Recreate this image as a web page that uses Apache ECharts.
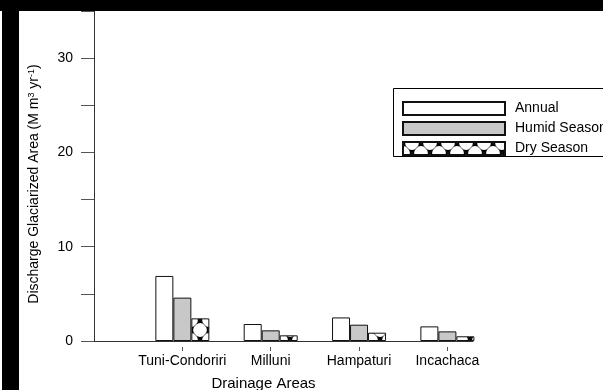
<!DOCTYPE html>
<html>
<head>
<meta charset="utf-8">
<title>Discharge by drainage area</title>
<script src="https://cdn.jsdelivr.net/npm/echarts@6/dist/echarts.min.js"></script>
<style>
  html, body { margin: 0; padding: 0; background: #fff; }
  #chart { width: 603px; height: 390px; }
</style>
</head>
<body>
<div id="chart"></div>
<script>
// Drainage areas and discharge values (M m3 / yr)
var categories = ['Tuni-Condoriri', 'Milluni', 'Hampaturi', 'Incachaca'];
var annual = [6.9, 1.8, 2.5, 1.55];
var humidSeason = [4.6, 1.13, 1.73, 1.02];
var drySeason = [2.4, 0.6, 0.88, 0.5];
var yTicks = [0, 10, 20, 30];

var FONT = '"Liberation Sans", Arial, sans-serif';

// Category positions on a numeric x axis: 1..n
var positions = categories.map(function (c, i) { return i + 1; });
function pairs(values) {
  return values.map(function (v, i) { return [positions[i], v]; });
}

// Cross-hatched fill: white discs between dark diagonal lines that meet in
// small black knots. dx/dy shift the lattice inside the tile.
function makeHatch(dx, dy) {
  var w = 18, h = 20;
  var c = document.createElement('canvas');
  c.width = w; c.height = h;
  var ctx = c.getContext('2d');
  ctx.fillStyle = '#000';
  ctx.fillRect(0, 0, w, h);
  function eachCopy(x, y, fn) {
    for (var i = -1; i <= 1; i++) {
      for (var j = -1; j <= 1; j++) fn(x + i * w, y + j * h);
    }
  }
  // white cells
  ctx.fillStyle = '#fff';
  [[9, 0], [0, h / 2]].forEach(function (p) {
    eachCopy((p[0] + dx) % w, (p[1] + dy) % h, function (x, y) {
      ctx.beginPath();
      ctx.arc(x, y, 6.9, 0, Math.PI * 2);
      ctx.fill();
    });
  });
  // diagonal hatch lines through the knots
  ctx.strokeStyle = 'rgba(30,30,30,0.8)';
  ctx.lineWidth = 0.8;
  [[0, 0], [9, h / 2]].forEach(function (p) {
    eachCopy((p[0] + dx) % w, (p[1] + dy) % h, function (x, y) {
      ctx.beginPath();
      ctx.moveTo(x, y); ctx.lineTo(x + 9, y + h / 2);
      ctx.moveTo(x, y); ctx.lineTo(x - 9, y + h / 2);
      ctx.stroke();
    });
  });
  return c;
}

var barHatch = { image: makeHatch(11, 10), repeat: 'repeat' };
var legendHatch = { image: makeHatch(0, 1), repeat: 'repeat' };

var chart = echarts.init(document.getElementById('chart'), null, { renderer: 'canvas' });

var barBorder = { borderColor: '#111', borderWidth: 1 };

var option = {
  animation: false,
  backgroundColor: '#fff',
  textStyle: { fontFamily: FONT },
  grid: { left: 94, top: 11, right: 130, bottom: 49, outerBoundsMode: 'none', containLabel: false },
  legend: {
    orient: 'vertical',
    left: 393,
    top: 88,
    padding: [13, 0, 2, 9],
    itemWidth: 102,
    itemHeight: 13,
    itemGap: 5,
    icon: 'rect',
    textStyle: { fontSize: 14, color: '#000', fontFamily: FONT, lineHeight: 13, padding: [0, 0, 0, 5] },
    data: [
      { name: 'Annual' },
      { name: 'Humid Season' },
      { name: 'Dry Season', itemStyle: { color: legendHatch } }
    ]
  },
  xAxis: [
    {
      type: 'value',
      min: 0,
      max: 4.29,
      position: 'bottom',
      axisLine: { show: true, onZero: false, lineStyle: { color: '#333', width: 1 } },
      axisTick: { show: false },
      axisLabel: { show: false },
      splitLine: { show: false }
    },
    {
      type: 'value',
      min: 0,
      max: 4.29,
      position: 'bottom',
      offset: 6,
      axisLine: { show: false, onZero: false },
      axisTick: { show: true, customValues: positions, length: 4, lineStyle: { color: '#555' } },
      axisLabel: {
        show: true,
        customValues: positions,
        margin: 7,
        fontSize: 14,
        color: '#000',
        fontFamily: FONT,
        formatter: function (v) { return categories[Math.round(v) - 1] || ''; }
      },
      splitLine: { show: false },
      name: 'Drainage Areas',
      nameLocation: 'middle',
      nameGap: 29,
      nameTextStyle: { fontSize: 15, color: '#000', fontFamily: FONT, padding: [0, 40, 0, 0] }
    }
  ],
  yAxis: {
    type: 'value',
    min: 0,
    max: 35,
    interval: 5,
    axisLine: { show: true, lineStyle: { color: '#333', width: 1 } },
    axisTick: { show: true, inside: false, length: 13, lineStyle: { color: '#555' } },
    axisLabel: {
      margin: 21,
      fontSize: 14,
      color: '#000',
      fontFamily: FONT,
      formatter: function (v) { return yTicks.indexOf(v) >= 0 ? String(v) : ''; }
    },
    splitLine: { show: false },
    name: 'Discharge Glaciarized Area (M m{sup|3} yr{sup|-1})',
    nameLocation: 'middle',
    nameGap: 53,
    nameTextStyle: {
      fontSize: 14,
      color: '#000',
      fontFamily: FONT,
      padding: [0, 16, 0, 0],
      rich: {
        sup: { fontSize: 9, fontFamily: FONT, color: '#000', verticalAlign: 'top', padding: [0, 0, 5, 0] }
      }
    }
  },
  series: [
    {
      name: 'Annual',
      type: 'bar',
      xAxisIndex: 0,
      barWidth: 18,
      barGap: '0%',
      itemStyle: Object.assign({ color: '#fff' }, barBorder),
      data: pairs(annual)
    },
    {
      name: 'Humid Season',
      type: 'bar',
      xAxisIndex: 0,
      barWidth: 18,
      barGap: '0%',
      itemStyle: Object.assign({ color: '#c8c8c8' }, barBorder),
      data: pairs(humidSeason)
    },
    {
      name: 'Dry Season',
      type: 'bar',
      xAxisIndex: 0,
      barWidth: 18,
      barGap: '0%',
      itemStyle: Object.assign({ color: barHatch }, barBorder),
      data: pairs(drySeason)
    }
  ],
  graphic: [
    // legend frame, running off the right edge
    { type: 'rect', z: 90, silent: true, shape: { x: 393.5, y: 88.5, width: 300, height: 68 }, style: { fill: 'none', stroke: '#000', lineWidth: 1 } },
    { type: 'rect', z: 100, silent: true, shape: { x: 0, y: 0, width: 603, height: 11 }, style: { fill: '#000' } },
    { type: 'rect', z: 100, silent: true, shape: { x: 2, y: 0, width: 17, height: 390 }, style: { fill: '#000' } }
  ]
};

chart.setOption(option);
</script>
</body>
</html>
